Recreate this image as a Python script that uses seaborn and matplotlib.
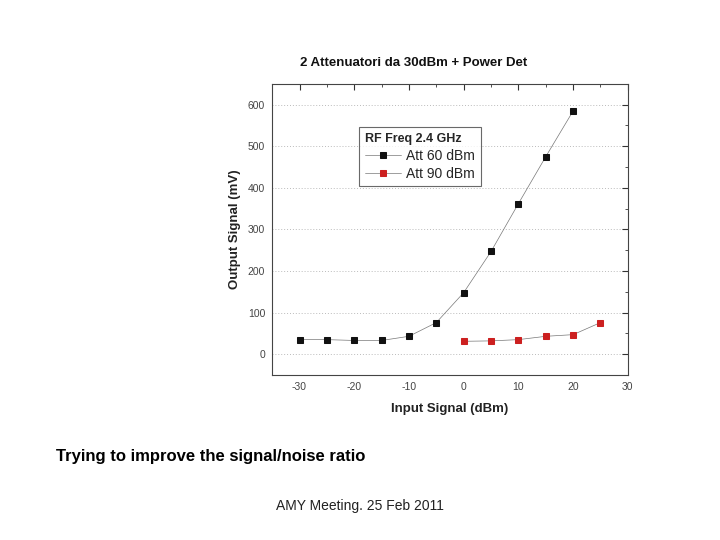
import matplotlib
matplotlib.use("Agg")
import matplotlib.pyplot as plt
from matplotlib.ticker import MultipleLocator
import seaborn as sns
import pandas as pd

sns.set_theme(style="white")
plt.rcParams['font.family'] = ['Liberation Sans', 'DejaVu Sans']
plt.rcParams['axes.unicode_minus'] = False

x_att60 = [-30, -25, -20, -15, -10, -5, 0, 5, 10, 15, 20]
y_att60 = [35, 35, 33, 33, 43, 76, 148, 247, 362, 475, 585]
x_att90 = [0, 5, 10, 15, 20, 25]
y_att90 = [31, 32, 35, 43, 47, 76]
series_names = ["Att 60 dBm", "Att 90 dBm"]
legend_title = "RF Freq 2.4 GHz"
chart_title = "2 Attenuatori da 30dBm + Power Det"
x_label = "Input Signal (dBm)"
y_label = "Output Signal (mV)"
slide_text = "Trying to improve the signal/noise ratio"
footer_text = "AMY Meeting. 25 Feb 2011"

fig = plt.figure(figsize=(7.2, 5.4), dpi=100)
ax = fig.add_axes([0.378, 0.3056, 0.494, 0.539])

colors = ["#111111", "#cc2020"]
for xs, ys, name, c in [(x_att60, y_att60, series_names[0], colors[0]),
                        (x_att90, y_att90, series_names[1], colors[1])]:
    df = pd.DataFrame({"x": xs, "y": ys})
    sns.lineplot(data=df, x="x", y="y", ax=ax, color="#777777", linewidth=0.5,
                 marker="s", markersize=5, markerfacecolor=c, markeredgecolor=c,
                 label=name)

ax.set_xlim(-35, 30)
ax.set_ylim(-50, 650)
ax.xaxis.set_major_locator(MultipleLocator(10))
ax.xaxis.set_minor_locator(MultipleLocator(5))
ax.yaxis.set_major_locator(MultipleLocator(100))
ax.yaxis.set_minor_locator(MultipleLocator(50))
ax.set_yticks([0, 100, 200, 300, 400, 500, 600])
ax.tick_params(which="both", direction="in", top=True, right=True,
               labelsize=7.5, labelcolor="#444444", color="#333333")
ax.tick_params(which="major", length=4, width=0.8, pad=5)
ax.tick_params(which="minor", length=2.5, width=0.6)
ax.grid(True, which="major", axis="y", linestyle=(0, (1, 2)), color="#bbbbbb", linewidth=0.7)
for s in ax.spines.values():
    s.set_color("#444444")
    s.set_linewidth(0.8)

ax.set_xlabel(x_label, fontsize=9.5, fontweight="bold", color="#222222", labelpad=8)
ax.set_ylabel(y_label, fontsize=9.5, fontweight="bold", color="#222222", labelpad=5)

leg = ax.legend(title=legend_title, loc="upper left", bbox_to_anchor=(0.244, 0.852),
                frameon=True, fancybox=False, fontsize=10, title_fontsize=9,
                handlelength=2.6, borderpad=0.4, labelspacing=0.3, handletextpad=0.4,
                borderaxespad=0)
leg.get_title().set_fontweight("bold")
leg.get_frame().set_edgecolor("#444444")
leg.get_frame().set_linewidth(0.8)
leg._legend_box.align = "left"

fig.text(0.575, 0.883, chart_title, ha="center", va="center", fontsize=9.5,
         fontweight="bold", color="#111111")
fig.text(0.078, 0.155, slide_text, ha="left", va="center", fontsize=12,
         fontweight="bold", color="#000000")
fig.text(0.5, 0.063, footer_text, ha="center", va="center", fontsize=10,
         color="#222222")

fig.savefig("out.png", dpi=100)
